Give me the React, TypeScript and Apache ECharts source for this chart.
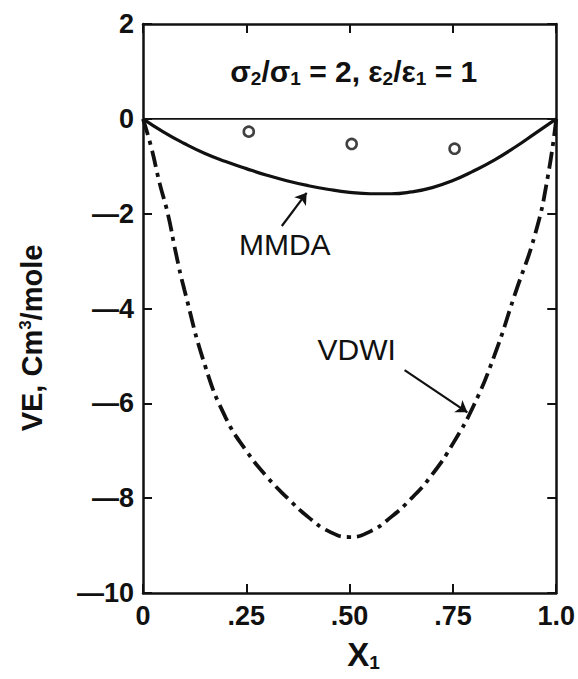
import React, { useEffect, useRef } from "react";
import * as echarts from "echarts";

const xTicks = [0, 0.25, 0.5, 0.75, 1];
const xTickLabels = ["0", ".25", ".50", ".75", "1.0"];

const mmdaX = [0, 0.05, 0.1, 0.15, 0.2, 0.25, 0.3, 0.35, 0.4, 0.45, 0.5, 0.55, 0.6, 0.65, 0.7, 0.75, 0.8, 0.85, 0.9, 0.95, 1.0];
const mmdaY = [0, -0.28, -0.52, -0.73, -0.9, -1.05, -1.19, -1.31, -1.41, -1.49, -1.55, -1.58, -1.58, -1.54, -1.45, -1.3, -1.1, -0.87, -0.6, -0.3, 0];

const vdwiX = [0, 0.02, 0.04, 0.06, 0.08, 0.1, 0.15, 0.2, 0.25, 0.3, 0.35, 0.4, 0.45, 0.5, 0.55, 0.6, 0.65, 0.7, 0.75, 0.8, 0.85, 0.9, 0.95, 0.98, 1.0];
const vdwiY = [0, -0.6, -1.35, -2.0, -2.85, -3.6, -5.2, -6.3, -7.0, -7.55, -8.0, -8.4, -8.7, -8.82, -8.7, -8.4, -8.0, -7.5, -6.85, -6.05, -5.0, -3.7, -2.4, -1.2, 0];

const expX = [0.256, 0.505, 0.754];
const expY = [-0.27, -0.53, -0.63];

const zeroX = [0, 1];
const zeroY = [0, 0];

const FONT = "'Liberation Sans', Arial, Helvetica, sans-serif";
const INK = "#111";

export default function App() {
  const ref = useRef<HTMLDivElement>(null);
  useEffect(() => {
    if (!ref.current) return;
    const chart = echarts.init(ref.current, null, { renderer: "svg" });
    const pair = (xs: number[], ys: number[]) => xs.map((x, i) => [x, ys[i]]);
    const tickStyle = { show: true, inside: true, length: 9, lineStyle: { color: INK, width: 2 } };
    const axisLine = { show: true, onZero: false, lineStyle: { color: INK, width: 2.5 } };
    const labelFont = { fontFamily: FONT, fontWeight: "bold" as const, fontSize: 27, color: INK };
    chart.setOption({
      animation: false,
      backgroundColor: "#fff",
      grid: { left: 143, right: 21, top: 24, bottom: 86 },
      xAxis: [
        {
          type: "value", min: 0, max: 1, interval: 0.25, position: "bottom",
          axisLine, axisTick: tickStyle, splitLine: { show: false },
          axisLabel: {
            ...labelFont, margin: 9,
            formatter: (v: number) => {
              const i = xTicks.findIndex((t) => Math.abs(t - v) < 1e-9);
              return i >= 0 ? xTickLabels[i] : "";
            },
          },
          name: "X{sub|1}", nameLocation: "middle", nameGap: 44,
          nameTextStyle: {
            fontFamily: FONT, fontWeight: "bold", fontSize: 33, color: INK, padding: [0, 0, 0, 28],
            rich: { sub: { fontFamily: FONT, fontWeight: "bold", fontSize: 19, color: INK, verticalAlign: "bottom", padding: [16, 0, 0, 0] } },
          },
        },
        {
          type: "value", min: 0, max: 1, interval: 0.25, position: "top",
          axisLine, axisTick: tickStyle, axisLabel: { show: false }, splitLine: { show: false },
        },
      ],
      yAxis: [
        {
          type: "value", min: -10, max: 2, interval: 2, position: "left",
          axisLine, axisTick: tickStyle, splitLine: { show: false },
          axisLabel: { ...labelFont, margin: 9, formatter: (v: number) => (v < 0 ? "\u2014" + Math.abs(v) : String(v)) },
        },
        {
          type: "value", min: -10, max: 2, interval: 2, position: "right",
          axisLine, axisTick: tickStyle, axisLabel: { show: false }, splitLine: { show: false },
        },
      ],
      series: [
        {
          type: "line", data: pair(zeroX, zeroY), showSymbol: false, silent: true,
          lineStyle: { color: INK, width: 1.8 },
        },
        {
          name: "MMDA", type: "line", data: pair(mmdaX, mmdaY), smooth: true, showSymbol: false,
          lineStyle: { color: INK, width: 3.2 },
          markLine: {
            silent: true, symbol: ["none", "arrow"], symbolSize: 11, label: { show: false },
            lineStyle: { color: INK, width: 2.2, type: "solid" },
            data: [[{ coord: [0.336, -2.26] }, { coord: [0.396, -1.56] }]],
          },
        },
        {
          name: "VDWI", type: "line", data: pair(vdwiX, vdwiY), smooth: true, showSymbol: false,
          lineStyle: { color: INK, width: 3.8, type: [17, 6, 4, 6] },
          markLine: {
            silent: true, symbol: ["none", "arrow"], symbolSize: 11, label: { show: false },
            lineStyle: { color: INK, width: 2.2, type: "solid" },
            data: [[{ coord: [0.633, -5.3] }, { coord: [0.785, -6.19] }]],
          },
        },
        {
          name: "exp", type: "scatter", data: pair(expX, expY), symbol: "circle", symbolSize: 10,
          itemStyle: { color: "#fff", borderColor: INK, borderWidth: 2.6 },
        },
      ],
    });

    const p = (x: number, y: number) => chart.convertToPixel({ xAxisIndex: 0, yAxisIndex: 0 }, [x, y]) as number[];
    const title = p(0.51, 0.99);
    const mm = p(0.343, -2.66);
    const vd = p(0.517, -4.87);
    const subStyle = { fontFamily: FONT, fontWeight: "bold", fontSize: 19, fill: INK, padding: [13, 0, 0, 0] };
    chart.setOption({
      graphic: [
        {
          type: "text", x: title[0], y: title[1],
          style: {
            text: "σ{s|2}/σ{s|1} = 2, ε{s|2}/ε{s|1} = 1",
            fontFamily: FONT, fontWeight: "bold", fontSize: 30, fill: INK,
            align: "center", verticalAlign: "middle",
            rich: { s: subStyle },
          },
        },
        {
          type: "text", x: mm[0], y: mm[1],
          style: { text: "MMDA", fontFamily: FONT, fontSize: 30, fill: INK, align: "center", verticalAlign: "middle" },
        },
        {
          type: "text", x: vd[0], y: vd[1],
          style: { text: "VDWI", fontFamily: FONT, fontSize: 30, fill: INK, align: "center", verticalAlign: "middle" },
        },
        {
          type: "text", x: 32, y: 338, rotation: Math.PI / 2,
          style: {
            text: "VE, Cm{sup|3}/mole",
            fontFamily: FONT, fontWeight: "bold", fontSize: 29, fill: INK,
            align: "center", verticalAlign: "middle",
            rich: { sup: { fontFamily: FONT, fontWeight: "bold", fontSize: 17, fill: INK, padding: [0, 0, 13, 0] } },
          },
        },
      ],
    });
    return () => chart.dispose();
  }, []);
  return <div ref={ref} style={{ position: "fixed", left: 0, top: 0, width: 578, height: 679 }} />;
}
